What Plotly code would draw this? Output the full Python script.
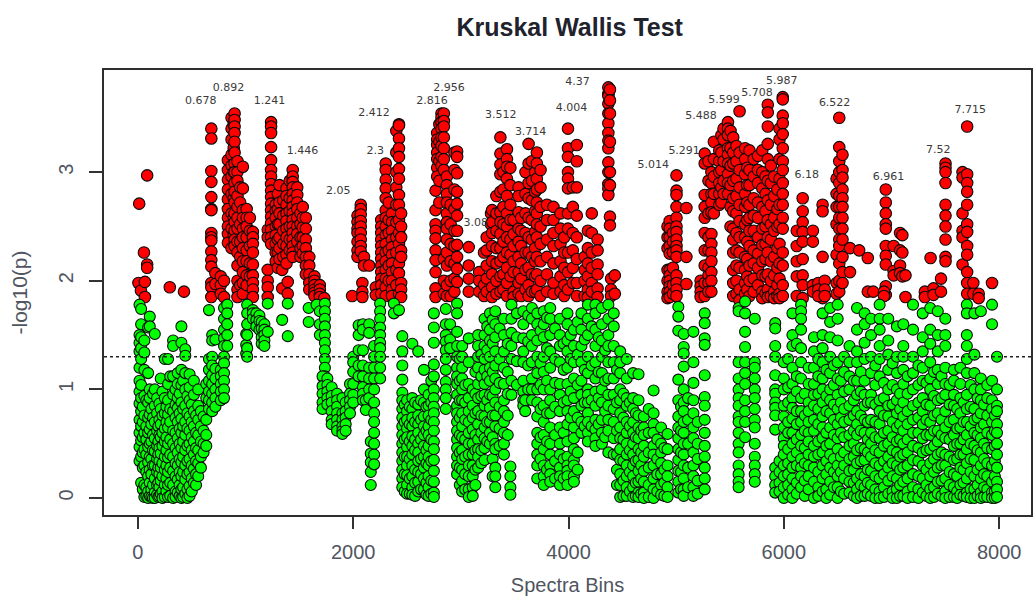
import plotly.graph_objects as go

# -log10(p) values are stored in hundredths, by spectra-bin column.
red_left = {
 5:[198],12:[271],28:[191],56:[226],65:[199,185],86:[297,215,212],296:[194],428:[190],
 682:[340,331,301,291,277,266,265,244,240,237,227,219,213,198,194,185],
 720:[207,197],770:[204,196,188],800:[200,185],
 836:[311,302,293,284,275,266,258,250,243,235],
 870:[350,340,330,316,306,296,280,262,248,230],
 890:[344,322,300,276,258,242],
 898:[354,348,342,336,328,318,308,300,290,282,272,262,254,246,238,232],
 925:[310,300,292,278,268,258,248,236,226,214,200,192,185],
 950:[286,272,252,236,222,196],
 975:[305,285,265,258,248,240,230,218,208,198,188],
 1010:[266,258,250,240,228,218,205,196],
 1040:[258,246,232,216,204],
 1068:[245,240,234,226,215,205,198,192,185],
 1206:[247,240,210,200,194,185],
 1237:[346,342,336,323,311,302,296,289,283,277,271,265,259,253,247,240,234],
 1280:[270,264,258,250,242,234,226,218],
 1300:[280,266,252,238,226,212],
 1315:[288,272,262,252,240,230,220],
 1340:[210,193],1392:[199,188],
 1350:[274,260,246,234,222],
 1380:[285,278,270,262,255,248,240,232,224,216],
 1410:[292,276,264,250,238,228],
 1438:[302,296,291,286,280,274,268,262,256,250,244,238,232,226,222],
 1480:[286,279,272,266,258,250,243,236],
 1510:[262,252,240,230,222],
 1531:[268,258,249,240,232,225],
 1560:[258,248,238,230,222,214,206],
 1592:[222,214,206,198,192],
 1640:[204,200,196,192,189,186],1690:[196,192,188,185],1731:[184],
}
red_mid = {
 1990:[186],2040:[260,254,248,244,236,228,222],
 2070:[270,266,261,255,250,244,238,232,227],
 2085:[198,190,185],2100:[222,214],2148:[214],2210:[194,187],
 2260:[256,250,244,238,232,226,220,214,208,202,196,188],
 2302:[308,302,293,285,276,265,258,250,242,234,226,218,210,202,194,186],
 2330:[272,256,244,228,214,200],
 2360:[262,254,246,238,231,224,216,208,200,192,186],
 2400:[338,318,300,286,270,254,240,226,210,196],
 2425:[344,343,331,322,314,303,294,279,270,256,244,234,216,207,188],
 2445:[262,250,240,228,222,198,192,185],
 2765:[283,265,252,246,239,228,219,208,193,185],
 2780:[336,330,325,318,312,304,296],
 2800:[344,328,310,292,272],
 2820:[354,350,346,340,332,324,314,306],
 2842:[354,347,342,332,322,312,302,220,200,188],
 2870:[296,288,280,272,262,254,248,238,226,214,196,186],
 2905:[270,252,234,218,200,186],
 2940:[318,302,284,266,246,232,216,202,190],
 2965:[319,314,299,282,271,260,246,233,222,211,199],
 3073:[231,214,202,190],
 3170:[208,200,190],3215:[226,196,186],
 3240:[240,228,214,202,190],3280:[262,252],3290:[265,254,244,232,218,206,194,185],
 3330:[278,262,246,230,216,200,188],
 3367:[332,317,307,298,282,263,254,243,230,218,204,190],
 3395:[300,284,268,252,236,222,206,192],
 3428:[321,312,305,294,278,262,250,240,226,212,198,186],
 3460:[304,288,270,256,238,224,204],
 3490:[256,243,232,218,208,190,185],
 3536:[286,278,263,248,236,222,208,198,188],
 3560:[258,246,232,216,202,186],
 3600:[300,280,262,244,226,210,192],
 3629:[326,308,290,276,258,240,226,212,196,186],
 3660:[310,292,274,256,238,222,206,190],
 3690:[300,282,264,245,230,218,204,190],
 3706:[318,308,294,284,272,262,252,240,222,206,192],
 3740:[302,286,268,250,234,218,200,186],
 3800:[270,256,238,222,206,190],
 3860:[268,256,244,232,216,198,188],
}
red_right = {
 3925:[262,248,234,218,204,190],
 3960:[240,226,212,196,186],
 3995:[340,322,314,300,294,285,262,248,226,208,192],
 4040:[286,268,244,228,212,198],
 4077:[325,310,286,260,240,220,198,186],
 4150:[222,210,200,186],4180:[246,230,216,204,192,185],
 4216:[262,244,226,212,198,190],
 4270:[238,228,215,206,193,185],
 4370:[378,372,370,363,354,345,336,329,322,309,300,289,285,279],
 4385:[376,366,354,328,300,288,259,251],4395:[202,192,186],
 4430:[205,188],4920:[250,240,230,210,200,190,184],
 4940:[255,248,240,232,225,210,205,200,195,190,185],
 4970:[244,236,226,212,196,188],
 5003:[297,283,279,268,258,250,245,238,232,228,222,205,198,192,186],
 5095:[267,222,197],5227:[200,195,190,185],
 5265:[317,308,279,268,258,244,228,214,198,186],
 5300:[310,292,262,240,228,212,205,198,190],
 5327:[300,290,280,272,263,243,234,226,218,208,200,190],
 5350:[328,312,296,280,262],
 5400:[320,310,300,290,280,270],
 5420:[334,318,302,286,272],
 5440:[340,330,310,292,280],5481:[346,340,334,322,316,308,298,290,280],
 5505:[338,322,306,288,268,250],
 5530:[332,318,308,292,276,264,248,238,226,210,198,186],
 5560:[324,310,294,278,262,244,228,214,200,188],
 5589:[356,318,302,286,270,255,240,226,212,192,182],
 5640:[322,312,298,280,268,252,240,222,210,198,188],
 5660:[304,288,272,256,236,220,204,192],
 5681:[320,302,288,270,258,246,232,214,200,186],
 5720:[312,296,276,260,246,228,216,202,190],
 5760:[315,302,290,272,258,240,225,212,196],
 5800:[320,300,285,268,248,233,218,205,190,184],
 5830:[296,280,264,250,234,220,204,188],
 5851:[362,355,342,326,312,292,274,256,240,226,206,192,185],
 5880:[306,290,270,252,238,218,200,186],
 5910:[296,278,258,246,222,205,190,184],
 5940:[284,266,250,230,212,196,186],
 5960:[340,330,312,294,270,252,234,216,202,188,184],
 5990:[369,367,352,345,335,322,310,302,290,280,270,258,248,226,214,196,186],
 6120:[246,232,218,204,186],
 6175:[276,264,254,245,236,220,205,196,184],
 6270:[246,236,196,190],6360:[270,264,222,192,184],
 6320:[198,192,186],6380:[200,192,186],
 6490:[294,280,268,252,224,198,188],
 6515:[350,323,310,300,290,278,268,258,248,238,232,216,200,190],
 6545:[316,302,295,284,276,268,258,248,238,222,208,198],
 6615:[230,208],6700:[228],6780:[221,190],6830:[190],
 6947:[284,272,262,252,248,232,223,215,195,187],
 6930:[190,186],7020:[232,209,205],
 7080:[244,228,214,207],7101:[242,226,204],7130:[205,185],
 7310:[190,185],7363:[221],7390:[193,187],7460:[202,190],
 7502:[308,304,300,290,270,260,250,238,222,218],
 7660:[300,295,262,246,240,215],
 7703:[342,298,290,282,270,252,245,232,224,208,198,188],
 7760:[198,188],7810:[188,184],7934:[198],
}

green_a = {
 15:[178,150,143,135,120,108,98,87,72,60,47,34],
 30:[174,160,148,138,128,104,92,80,66,53,38,14],
 45:[84,70,56,42,28,8],
 60:[145,134,118,94,76,60,45,30,12,1],
 78:[90,66,54,40,24,10,2],
 95:[157,115,88,74,60,47,33,20,6,0],
 110:[167,158,100,92,77,63,50,38,26,14,2],
 125:[82,68,52,36,22,8,1],140:[96,74,58,44,30,12,0],
 157:[151,100,85,70,55,43,30,18,5,0],
 178:[92,78,62,48,36,24,12,3],190:[66,52,40,28,14,1],
 200:[87,72,58,46,34,22,10,2],
 212:[110,82,68,56,41,28,16,4],228:[98,76,60,48,32,20,6,0],
 250:[128,92,78,64,52,38,26,12,1],265:[84,70,56,44,30,18,6],
 280:[128,105,90,77,65,50,37,24,12,1],300:[112,82,70,54,40,28,14,2],
 327:[145,140,112,95,80,62,50,38,25,12,0],350:[100,86,74,60,46,32,20,6,1],
 370:[115,105,92,83,70,55,42,30,17,5],388:[96,78,64,50,36,24,12,2],
 404:[158,143,118,104,88,73,60,46,33,20,8,0],420:[108,82,66,52,38,24,10,1],
 440:[137,131,115,100,85,70,58,44,30,17,4],460:[94,78,64,48,34,22,8,0],
 480:[114,102,90,75,62,50,36,24,11,2],500:[86,70,56,44,30,18,6],
 520:[108,95,80,66,52,40,27,14],540:[76,60,46,34,22,12],
 560:[100,85,72,58,44,32,20],585:[80,66,52,38,28],
 610:[75,62,50,42],
 635:[105,92,72,58,48],
 660:[173,128,118,108,98,90,82],
 690:[150,145,130,122,113,105,96,88,80],
 720:[146,119,110,100,92,84],
 770:[118,112,105,98,90],
 800:[175,165,155,147,140,130,124,115,108,100,92],
 830:[178,170,160,150,140],
 1006:[151,141,133],1015:[178,170,160,150,138,130],
 1068:[173,170,165],1100:[170,164,158],1129:[168,163,155],1150:[162,156,148,142],
 1175:[160,155,150,145,140],1206:[179,153],1340:[164],1392:[179,149],1586:[175,162],
}
green_b = {
 1660:[178],1690:[172,160,150],
 1737:[179,172,165,158,150,143,136,128,120,112,105],
 1715:[112,103,96,88,82],1760:[110,104,98,92,86],
 1800:[102,94,88,80,72,68],1850:[96,90,84,78,72,66,62],
 1900:[92,78,72,66,62,59],1930:[88,80,74,68,62],
 1970:[105,96,90,84,78],2000:[130,125,116,105,95,88],
 2050:[159,150,136,122,112],2090:[160,155,136,122,112,102,96,90],
 2117:[90,81],2148:[160,152,120,110,100,92],
 2163:[52,41,33,24,12],2194:[140,130,120,110,100,88,78,70,60,50,40,31],
 2250:[179,172,165,157,150,143,138,130,120,110],
 2378:[179,170],2425:[173],
 2456:[149,135,122,109,97,90,82,74,66,58,50,42,34,26,18,10],
 2478:[86,70,54,38,22,6],
 2500:[90,80,72,64,56,47,38,30,21,12,4],
 2525:[84,68,52,36,18,4],
 2549:[142,92,82,74,66,57,48,40,30,20,10,3],
 2575:[88,70,54,44,26,14,2],
 2604:[135,86,76,68,60,50,42,34,24,15,6],
 2630:[90,72,54,36,22,8],
 2657:[118,100,88,75,66,58,48,38,28,18,8],
 2680:[84,62,44,32,14,3],
 2700:[95,85,76,66,58,48,38,30,20,10,2],
 2725:[108,88,72,54,34,16,4],
 2749:[170,157,143,123,112,100,92,84,78,70,62,52,45,35,25,15,5,1],
 2860:[174,160,150,144,136,128,118,107,100,92,82],
 2900:[160,146,138],
 2965:[179,170,153,140,130,120,112,105,95,85,78,70,62,54,46,38,30,22],
 2990:[128,108,90,74,58,42,28,12],
 3012:[140,130,120,110,100,90,78,66,56,44,36,26,16,6],
 3040:[104,88,72,54,38,22,8],
 3073:[147,125,105,92,80,70,60,50,40,30,20,8,1],
 3110:[100,85,74,63,50,40,30,20,10,2],
 3135:[116,96,78,58,44,26,12],
 3160:[150,140,130,120,105,92,80,68,54,45,38,28],
 3190:[132,112,94,76,60,44,32],
 3220:[165,150,140,128,118,105,95,85,75,65,55,46,35],
 3245:[158,136,112,90,70,52],
 3270:[170,155,145,130,120,108,95,83,70,60,50],
 3295:[164,142,116,94,76,56,36,20],
 3320:[172,160,148,135,122,110,100,88,76,66,50,45,28,20,10],
 3360:[156,128,106,84,64,48],
 3400:[165,150,135,120,105,90,80,70,60,50,40],
 3435:[142,116,96,76,58],
 3460:[29,20,10,3],
 3470:[178,165,152,140,128,108,95],
 3520:[170,148,126,104],
 3580:[172,160,147,135,125,108,98,90,85],3598:[90,80],
 3625:[168,144,122,100],
 3660:[175,165,150,140,125,110,100,90],
 3710:[170,160,145,130,115,100,88,75,60,50,40,30,18],
 3740:[154,124,104,82,56,36],
 3770:[172,160,148,130,116,100,85,70,58,45,30,20,12],
 3800:[166,138,108,78,52,26],
 3830:[175,165,150,135,120,100,90,78,65,50,40,30,22,15],
 3875:[156,128,106,84,58,34,18],
}
green_c = {
 3920:[165,150,140,125,105,95,80,65,50,40,28,20,12],
 3955:[142,118,88,60,36,18],
 3990:[170,160,145,135,120,105,90,80,68,52,38,30,25,20,12],
 4020:[150,128,98,74],
 4050:[155,140,125,110,92,80,65,55,45,35,30,20,15],
 4085:[162,132,104,74,42,26],
 4120:[170,155,140,125,108,95,85,70,60],
 4150:[146,118,88,66],
 4180:[178,165,150,130,115,100,95,88,78,70,60,52],
 4215:[158,122,90,66],
 4250:[178,170,155,140,125,110,98,85,72,63,55,48],
 4280:[148,116,92,68],
 4310:[175,160,145,130,115,100,88,72,60,50],
 4340:[136,108,80,56],
 4370:[178,165,150,140,125,110,95,85,72,62,42],
 4420:[170,158,140,125,110,95,82,70,55,40],
 4450:[118,88,62,40,26,12],
 4480:[135,125,115,100,90,78,65,55,45,35,22,12,1],
 4510:[96,74,54,34,16,2],
 4540:[128,110,92,85,70,60,50,40,30,20,10,2],
 4570:[88,66,44,24,6],
 4600:[115,92,82,70,60,50,40,30,20,10,1],
 4625:[78,56,34,14,2],
 4650:[114,90,76,65,55,45,35,25,15,5,1],
 4675:[62,42,30,18,4],
 4700:[75,65,58,48,38,25,15,5,0],
 4745:[82,60,42,28,12,1],
 4790:[99,78,68,60,48,40,30,18,8,0],
 4825:[54,36,22,6],
 4860:[65,50,42,32,22,12,3],
 4890:[46,26,14,2],
 4920:[59,45,30,20,10,1],
 5020:[176,167,154,109,90,75,65,55,45,35,25,15,5],
 5045:[84,62,42,24,8],
 5070:[151,139,133,121,100,88,80,70,60,50,40,30,18,8,2],
 5110:[92,72,50,28,10],
 5160:[153,125,106,90,78,65,55,42,30,20,10,2],
 5200:[70,50,36,16,4],
 5265:[170,161,147,141,113,93,85,72,60,48,38,28,18,8],
 5580:[175,172,125,110,100,92,85,75,70,60,50,42,30,22,15,10],
 5640:[181,170,153,139,125,115,105,90,80,70,56],
 5730:[165,125,120,110,100,92,82,72,65,50,38,30,22,15],
}
green_d = {
 5920:[161,156,140,130,113,100,96,88,83,76,63,28,20,12,5],
 5960:[34,24,14,6],
 6000:[125,110,100,85,75,65,55,48,40,30,20,10,0],
 6040:[128,102,88,70,60,45,32,22,12,3],
 6080:[170,150,140,120,105,92,83,73,60,50,38,28,18,8,0],
 6120:[142,112,98,80,68,54,42,30,14,4],
 6160:[178,172,165,155,138,125,110,92,80,70,58,48,36,28,20,10],
 6195:[96,76,62,46,32,16,2],
 6230:[120,105,88,80,70,60,52,40,30,20,8],
 6280:[148,135,120,105,95,85,72,62,48,38,28,15,0],
 6320:[128,112,96,82,68,52,40,24,10,2],
 6360:[170,150,138,125,110,100,88,75,65,55,42,30,18,6],
 6395:[118,94,80,60,48,34,22,8,0],
 6430:[175,162,148,130,115,100,90,78,65,50,40,28,15,3],
 6465:[122,104,86,72,58,36,24,10],
 6500:[178,165,145,125,110,95,82,68,55,45,30,20,10,0],
 6530:[108,88,74,60,38,24,6],
 6560:[130,116,98,82,70,56,42,30,18,4],
 6610:[140,125,112,100,85,72,58,48,36,25,15,5],
 6650:[108,90,76,62,50,38,26,14,2],
 6680:[175,155,135,125,108,95,80,68,58,44,32,18,8,0],
 6715:[116,98,76,62,46,34,22,12,2],
 6750:[170,160,143,128,108,95,85,72,60,45,35,20,10,2],
 6780:[88,70,54,42,26,14,4],
 6810:[165,150,130,115,95,88,72,60,50,38,25,12,2],
 6850:[122,104,86,70,56,44,32,20,8,0],
 6890:[178,165,155,140,128,112,90,80,68,55,42,30,18,6,0],
 6930:[106,92,76,60,48,34,22,10,1],
 6970:[165,145,132,118,100,85,75,62,50,38,28,16,4],
 7010:[124,104,86,70,56,44,32,20,6,0],
 7050:[158,130,115,100,90,78,65,52,42,30,18,8,0],
 7080:[96,82,68,54,38,26,12,2],
 7110:[160,140,130,118,105,88,75,62,50,40,28,15,2],
 7150:[112,96,80,68,54,42,30,18,6,0],
 7200:[178,155,130,115,100,85,72,60,48,35,22,10,1],
 7250:[122,104,88,74,60,46,34,20,8,0],
 7290:[170,148,135,120,108,92,80,68,55,42,30,18,5],
 7325:[106,86,72,58,44,26,12,2],
 7360:[175,155,142,125,110,100,85,70,58,45,32,20,8,0],
 7395:[116,94,76,62,48,36,24,10,1],
 7430:[172,150,135,118,105,90,78,62,52,40,28,15,4],
 7465:[112,92,72,58,42,30,16,2],
 7500:[165,150,140,120,105,95,80,65,55,40,30,18,6,0],
 7540:[104,86,70,54,38,24,12,1],
 7580:[118,108,95,85,72,58,48,35,22,10,1],
 7610:[82,64,50,36,20,6,0],
 7640:[120,105,92,78,65,50,40,28,12,3],
 7670:[88,70,54,40,26,14,2],
 7700:[178,170,150,140,128,115,95,82,70,58,45,32,18,5,1],
 7735:[104,84,66,50,36,24,8,0],
 7770:[170,132,115,100,82,72,60,48,35,20,8,0],
 7800:[92,74,58,44,26,12,2],
 7830:[172,110,100,90,78,65,55,42,30,18,5,0],
 7860:[86,68,50,36,22,10,1],
 7890:[104,92,76,60,46,32,20,8,1],
 7934:[178,160,108,90,82,70,58,45,30,15,5,0],
 7960:[76,62,48,34,20,6,0],
 7980:[130,100,85,80,68,60,50,40,28,15,8,1],
}

label_text = ["0.678","0.892","1.241","1.446","2.05","2.3","2.412","2.816","2.956","3.08",
              "3.512","3.714","4.004","4.37","5.014","5.291","5.488","5.599","5.708","5.987",
              "6.18","6.522","6.961","7.52","7.715"]
label_bin = [583,842,1222,1528,1861,2204,2194,2731,2889,3139,
             3370,3648,4028,4083,4787,5074,5231,5444,5750,5981,
             6213,6472,6972,7435,7731]
label_level = [3.65,3.77,3.65,3.19,2.82,3.19,3.54,3.65,3.77,2.53,
               3.52,3.37,3.59,3.83,3.06,3.19,3.51,3.66,3.73,3.84,
               2.97,3.63,2.95,3.2,3.57]
threshold = 1.3
x_ticks = [0,2000,4000,6000,8000]
y_ticks = [0,1,2,3]


def flatten(*groups):
    xs, ys = [], []
    for group in groups:
        for b, levels in group.items():
            for v in levels:
                xs.append(b)
                ys.append(v / 100)
    return xs, ys


rx, ry = flatten(red_left, red_mid, red_right)
gx, gy = flatten(green_a, green_b, green_c, green_d)

marker_line = dict(color="#0a0a0a", width=1.1)
fig = go.Figure()
fig.add_trace(go.Scatter(x=rx, y=ry, mode="markers", showlegend=False,
                         marker=dict(size=11.5, color="#ff0000", line=marker_line)))
fig.add_trace(go.Scatter(x=gx, y=gy, mode="markers", showlegend=False,
                         marker=dict(size=11, color="#00ff00", line=marker_line)))
fig.add_trace(go.Scatter(x=label_bin, y=label_level, text=label_text, mode="text", showlegend=False,
                         textposition="middle center", cliponaxis=False,
                         textfont=dict(family="DejaVu Sans", size=11, color="#3a3a3a")))
fig.add_hline(y=threshold, line=dict(color="#222222", width=1.5, dash="dot"), layer="above")

tick_font = dict(family="Liberation Sans", size=20, color="#50555f")
title_font = dict(family="Liberation Sans", size=20, color="#50555f")
axis_common = dict(showgrid=False, zeroline=False, showline=True, mirror=True, linecolor="#2e2e2e",
                   linewidth=2, ticks="outside", tickwidth=1.5, tickcolor="#333333", tickfont=tick_font)
fig.update_xaxes(range=[-315, 8296], tickvals=x_ticks, ticktext=[str(t) for t in x_ticks],
                 ticklen=12, ticklabelstandoff=6,
                 title=dict(text="Spectra Bins", standoff=16, font=title_font), **axis_common)
fig.update_yaxes(range=[-0.156, 3.94], tickvals=y_ticks, ticktext=[str(t) for t in y_ticks], tickangle=-90,
                 ticklen=13, ticklabelstandoff=8,
                 title=dict(text="-log10(p)", standoff=22, font=dict(family="Liberation Sans", size=21, color="#50555f")),
                 **axis_common)
fig.update_layout(
    width=1034, height=602, autosize=False, plot_bgcolor="white", paper_bgcolor="white",
    margin=dict(l=104, r=1, t=70, b=87),
    title=dict(text="<b>Kruskal Wallis Test</b>", x=0.551, xanchor="center", y=0.955, yanchor="middle",
               font=dict(family="Liberation Sans", size=25, color="#20222c")),
)
fig.write_html("out.html", config={"displayModeBar": False},
               post_script="document.body.style.margin='0';document.body.style.overflow='hidden';")
